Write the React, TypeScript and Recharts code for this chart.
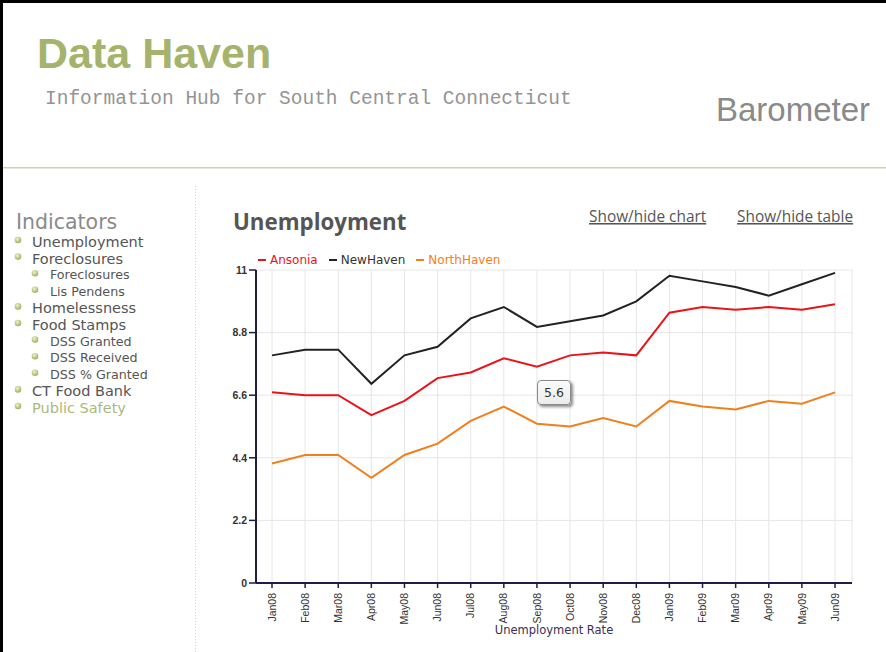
import React from "react";
import {
  CartesianGrid,
  Legend,
  Line,
  LineChart,
  Tooltip,
  XAxis,
  YAxis,
} from "recharts";

const months = [
  "Jan08", "Feb08", "Mar08", "Apr08", "May08", "Jun08", "Jul08", "Aug08", "Sep08",
  "Oct08", "Nov08", "Dec08", "Jan09", "Feb09", "Mar09", "Apr09", "May09", "Jun09",
];
const ansonia = [6.7, 6.6, 6.6, 5.9, 6.4, 7.2, 7.4, 7.9, 7.6, 8.0, 8.1, 8.0, 9.5, 9.7, 9.6, 9.7, 9.6, 9.8];
const newHaven = [8.0, 8.2, 8.2, 7.0, 8.0, 8.3, 9.3, 9.7, 9.0, 9.2, 9.4, 9.9, 10.8, 10.6, 10.4, 10.1, 10.5, 10.9];
const northHaven = [4.2, 4.5, 4.5, 3.7, 4.5, 4.9, 5.7, 6.2, 5.6, 5.5, 5.8, 5.5, 6.4, 6.2, 6.1, 6.4, 6.3, 6.7];
const yTicks = [0, 2.2, 4.4, 6.6, 8.8, 11];

const indicators = [
  { label: "Unemployment", sub: false },
  { label: "Foreclosures", sub: false },
  { label: "Foreclosures", sub: true },
  { label: "Lis Pendens", sub: true },
  { label: "Homelessness", sub: false },
  { label: "Food Stamps", sub: false },
  { label: "DSS Granted", sub: true },
  { label: "DSS Received", sub: true },
  { label: "DSS % Granted", sub: true },
  { label: "CT Food Bank", sub: false },
  { label: "Public Safety", sub: false },
];

const data = months.map((month, i) => ({
  month,
  Ansonia: ansonia[i],
  NewHaven: newHaven[i],
  NorthHaven: northHaven[i],
}));

const AXIS = "#1f1d45";
const GREEN = "#a5b36c";

function MonthTick(props: any) {
  const { x, y, payload } = props;
  const ty = y + 3;
  return (
    <text
      x={x}
      y={ty}
      transform={`rotate(-90, ${x}, ${ty})`}
      textAnchor="end"
      dy="0.35em"
      fontSize={10.5}
      fill="#333"
      fontFamily="'Liberation Sans', Arial, sans-serif"
    >
      {payload.value}
    </text>
  );
}

function LegendRow(props: any) {
  const textColor: Record<string, string> = { NewHaven: "#333" };
  return (
    <div style={{ display: "flex", alignItems: "center", fontFamily: "'DejaVu Sans', Verdana, sans-serif", fontSize: 12 }}>
      {(props.payload || []).map((e: any) => (
        <div key={e.value} style={{ display: "flex", alignItems: "center", marginRight: 11 }}>
          <span style={{ display: "inline-block", width: 8, height: 2, background: e.color, marginRight: 4 }} />
          <span style={{ color: textColor[e.value] || e.color }}>{e.value}</span>
        </div>
      ))}
    </div>
  );
}

function ValueTip(props: any) {
  const { active, payload } = props;
  if (!active || !payload) return null;
  const item = payload.find((p: any) => p.dataKey === "NorthHaven");
  if (!item) return null;
  return (
    <div
      style={{
        width: 32,
        height: 23,
        lineHeight: "23px",
        textAlign: "center",
        background: "linear-gradient(#fafafa, #ececec)",
        border: "1px solid #8a8a8a",
        borderRadius: 4,
        boxShadow: "2px 2px 3px rgba(0,0,0,0.45)",
        fontFamily: "'DejaVu Sans', Verdana, sans-serif",
        fontSize: 12.5,
        color: "#333",
      }}
    >
      {item.value}
    </div>
  );
}

function Bullet({ cx, cy }: { cx: number; cy: number }) {
  return <circle cx={cx} cy={cy} r={3.3} fill="url(#bullet)" />;
}

export default function App() {
  return (
    <div
      style={{
        position: "absolute",
        left: 0,
        top: 0,
        width: 886,
        height: 652,
        overflow: "hidden",
        background: "#fff",
      }}
    >
      <svg width={886} height={652} style={{ position: "absolute", left: 0, top: 0 }}>
        <defs>
          <radialGradient id="bullet" cx="40%" cy="35%" r="65%">
            <stop offset="0%" stopColor="#eef3cf" />
            <stop offset="100%" stopColor="#9db059" />
          </radialGradient>
        </defs>
        <rect x={0} y={0} width={886} height={3} fill="#000" />
        <rect x={0} y={0} width={3} height={652} fill="#000" />
        <text x={37} y={68} fontFamily="'Liberation Sans', Arial, sans-serif" fontWeight="bold" fontSize={43} fill={GREEN}>
          Data Haven
        </text>
        <text x={45} y={104} fontFamily="'Liberation Mono', 'Courier New', monospace" fontSize={19.5} fill="#949494">
          Information Hub for South Central Connecticut
        </text>
        <text x={716} y={121} fontFamily="'Liberation Sans', Arial, sans-serif" fontSize={33} fill="#8a8a8a">
          Barometer
        </text>
        <rect x={3} y={167} width={883} height={1.5} fill="#cfd3a8" />
        <line x1={195.5} y1={186} x2={195.5} y2={652} stroke="#d4d4d4" strokeDasharray="1 2" />

        <text x={16} y={229} fontFamily="'DejaVu Sans', Verdana, sans-serif" fontSize={20.5} fill="#8a8a8a">
          Indicators
        </text>
        {indicators.map((it, i) => {
          const cy = 242 + i * 16.6;
          const last = i === indicators.length - 1;
          return (
            <g key={i}>
              <Bullet cx={it.sub ? 35 : 18} cy={cy - 2} />
              <text
                x={it.sub ? 50 : 32}
                y={cy + (it.sub ? 4 : 5)}
                fontFamily="'DejaVu Sans', Verdana, sans-serif"
                fontSize={it.sub ? 12.7 : 14.5}
                fill={last ? "#abb97d" : "#555"}
              >
                {it.label}
              </text>
            </g>
          );
        })}

        <text x={233} y={230} fontFamily="'Open Sans', sans-serif" fontWeight="bold" fontSize={22.3} fill="#555">
          Unemployment
        </text>
        <text x={589} y={222} fontFamily="'Open Sans', sans-serif" fontSize={15.4} fill="#555" textDecoration="underline">
          Show/hide chart
        </text>
        <text x={737} y={222} fontFamily="'Open Sans', sans-serif" fontSize={15.4} fill="#555" textDecoration="underline">
          Show/hide table
        </text>
      </svg>

      <div style={{ position: "absolute", left: 200, top: 240 }}>
        <LineChart width={686} height={412} data={data} margin={{ top: 30, right: 34, left: 0, bottom: 0 }}>
          <CartesianGrid stroke="#e6e6e6" />
          <XAxis
            dataKey="month"
            interval={0}
            height={69}
            padding={{ left: 16, right: 17 }}
            tick={<MonthTick />}
            tickSize={5}
            axisLine={{ stroke: AXIS, strokeWidth: 2 }}
            tickLine={{ stroke: AXIS, strokeWidth: 1.5 }}
            label={{
              value: "Unemployment Rate",
              position: "insideBottom",
              offset: 18,
              fill: "#3a2f55",
              fontSize: 11.5,
              fontFamily: "'DejaVu Sans', Verdana, sans-serif",
            }}
          />
          <YAxis
            width={56}
            domain={[0, 11]}
            ticks={yTicks}
            tickSize={7}
            tickMargin={2}
            axisLine={{ stroke: AXIS, strokeWidth: 2 }}
            tickLine={{ stroke: AXIS, strokeWidth: 1.5 }}
            tick={{ fontSize: 10.5, fill: "#333", fontWeight: "bold", fontFamily: "'Liberation Sans', Arial, sans-serif" }}
          />
          <Legend
            verticalAlign="middle"
            align="center"
            content={<LegendRow />}
            wrapperStyle={{ top: 13, left: 58, width: 400, height: 16 }}
          />
          <Tooltip
            defaultIndex={8}
            content={<ValueTip />}
            cursor={false}
            position={{ x: 337, y: 140 }}
            isAnimationActive={false}
            wrapperStyle={{ outline: "none" }}
          />
          <Line dataKey="Ansonia" stroke="#e8141c" strokeWidth={2} dot={false} activeDot={false} isAnimationActive={false} />
          <Line dataKey="NewHaven" stroke="#222" strokeWidth={2} dot={false} activeDot={false} isAnimationActive={false} />
          <Line dataKey="NorthHaven" stroke="#f07f1e" strokeWidth={2} dot={false} activeDot={false} isAnimationActive={false} />
        </LineChart>
      </div>
    </div>
  );
}
